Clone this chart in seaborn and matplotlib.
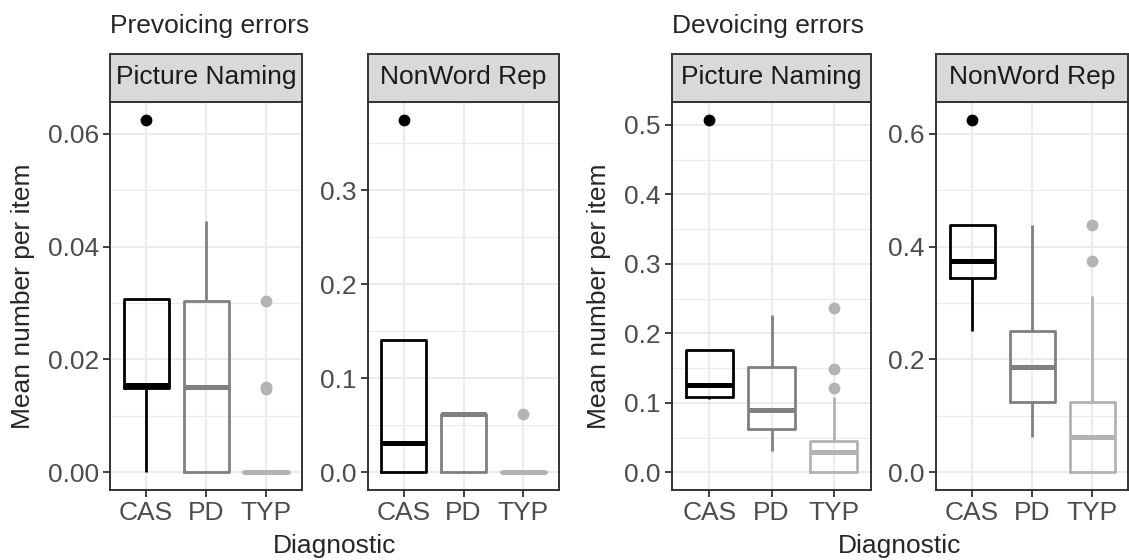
"""Prevoicing / devoicing error rates by diagnostic group, split by task.

Two ggplot-style facet pairs side by side (free y per facet), boxplots drawn
with seaborn, strips and titles added by hand.
"""

import matplotlib
import numpy as np
import pandas as pd

matplotlib.use("Agg")
import matplotlib.pyplot as plt
import seaborn as sns
from matplotlib.ticker import FormatStrFormatter, MultipleLocator

GROUPS = ["CAS", "PD", "TYP"]
TASKS = ["Picture Naming", "NonWord Rep"]
ERROR_TYPES = ["Prevoicing errors", "Devoicing errors"]

# Mean number of errors per item, one value per child.
PREV_PN_CAS = [0, 0.0147, 0.0149, 0.0152, 0.0155, 0.0303, 0.0308, 0.0308, 0.0625]
PREV_PN_PD = [0, 0, 0, 0.0147, 0.0152, 0.0156, 0.0303, 0.0303, 0.0446]
PREV_PN_TYP = [0, 0, 0, 0, 0, 0, 0, 0, 0, 0, 0.0147, 0.0152, 0.0303]

PREV_NWR_CAS = [0, 0, 0, 0.03125, 0.03125, 0.0625, 0.1406, 0.1406, 0.375]
PREV_NWR_PD = [0, 0, 0, 0.0625, 0.0625, 0.0625, 0.0625, 0.0625, 0.0625]
PREV_NWR_TYP = [0, 0, 0, 0, 0, 0, 0, 0, 0, 0, 0, 0, 0.0625]

DEV_PN_CAS = [0.105, 0.106, 0.108, 0.118, 0.125, 0.15, 0.176, 0.176, 0.5075]
DEV_PN_PD = [0.031, 0.05, 0.0617, 0.076, 0.09, 0.12, 0.152, 0.19, 0.2266]
DEV_PN_TYP = [0, 0, 0, 0, 0, 0.015, 0.015, 0.015, 0.030, 0.030, 0.030,
              0.045, 0.045, 0.108, 0.121, 0.148, 0.236]

DEV_NWR_CAS = [0.25, 0.3125, 0.34375, 0.375, 0.375, 0.40625, 0.4375, 0.4375, 0.625]
DEV_NWR_PD = [0.0625, 0.125, 0.125, 0.1875, 0.1875, 0.1875, 0.25, 0.3125, 0.4375]
DEV_NWR_TYP = [0, 0, 0, 0, 0, 0, 0.0625, 0.0625, 0.0625, 0.0625, 0.125, 0.125,
               0.125, 0.1875, 0.3125, 0.375, 0.4375]

GROUP_COLORS = {"CAS": "#000000", "PD": "#808080", "TYP": "#B3B3B3"}

# (major tick step, label format) per facet, in panel order
TICK_STEPS = [0.02, 0.1, 0.1, 0.2]
TICK_FMTS = ["%.2f", "%.1f", "%.1f", "%.1f"]

W, H = 1129, 560
PANEL_X = [(110, 302), (368, 559), (672, 871), (936, 1128)]
PANEL_TOP, PANEL_BOTTOM = 102, 490
STRIP_TOP = 54
FS = 19

sns.set_theme(style="white")
plt.rcParams["font.family"] = ["Liberation Sans", "DejaVu Sans"]


def build_frame():
    series = {
        ("Prevoicing errors", "Picture Naming"): [PREV_PN_CAS, PREV_PN_PD, PREV_PN_TYP],
        ("Prevoicing errors", "NonWord Rep"): [PREV_NWR_CAS, PREV_NWR_PD, PREV_NWR_TYP],
        ("Devoicing errors", "Picture Naming"): [DEV_PN_CAS, DEV_PN_PD, DEV_PN_TYP],
        ("Devoicing errors", "NonWord Rep"): [DEV_NWR_CAS, DEV_NWR_PD, DEV_NWR_TYP],
    }
    rows = []
    for (err, task), per_group in series.items():
        for grp, vals in zip(GROUPS, per_group):
            rows += [{"error": err, "task": task, "Diagnostic": grp, "value": v} for v in vals]
    return pd.DataFrame(rows)


def draw_panel(fig, sub, x0, x1, step, fmt, task):
    ax = fig.add_axes([x0 / W, 1 - PANEL_BOTTOM / H, (x1 - x0) / W,
                       (PANEL_BOTTOM - PANEL_TOP) / H])
    sns.boxplot(
        data=sub, x="Diagnostic", y="value", hue="Diagnostic", order=GROUPS,
        hue_order=GROUPS, palette=GROUP_COLORS, fill=False, dodge=False,
        width=0.75, linewidth=2.0, showcaps=False, fliersize=8.5,
        flierprops={"marker": "o"}, medianprops={"linewidth": 3.6},
        legend=False, ax=ax,
    )
    # ggplot outliers are solid dots
    for ln in ax.lines:
        if ln.get_marker() == "o":
            ln.set_markerfacecolor(ln.get_markeredgecolor())
            ln.set_markeredgewidth(0)

    lo, hi = sub["value"].min(), sub["value"].max()
    pad = 0.05 * (hi - lo)
    ax.set_ylim(lo - pad, hi + pad)
    ax.set_xlim(-0.6, 2.6)
    ax.yaxis.set_major_locator(MultipleLocator(step))
    ax.yaxis.set_minor_locator(MultipleLocator(step / 2))
    ax.yaxis.set_major_formatter(FormatStrFormatter(fmt))

    ax.set_axisbelow(True)
    ax.grid(which="major", color="#EBEBEB", lw=1.5)
    ax.grid(which="minor", axis="y", color="#EBEBEB", lw=0.8)
    ax.tick_params(which="major", length=5, width=1.3, color="#333333",
                   labelsize=FS, labelcolor="#4D4D4D", pad=3, left=True, bottom=True)
    ax.tick_params(which="minor", length=0)
    for sp in ax.spines.values():
        sp.set_color("#333333")
        sp.set_linewidth(1.4)
    ax.set_xlabel("")
    ax.set_ylabel("")

    # facet strip
    sax = fig.add_axes([x0 / W, 1 - PANEL_TOP / H, (x1 - x0) / W,
                        (PANEL_TOP - STRIP_TOP) / H])
    sax.set_facecolor("#D9D9D9")
    sax.set_xticks([])
    sax.set_yticks([])
    for sp in sax.spines.values():
        sp.set_color("#333333")
        sp.set_linewidth(1.4)
    sax.text(0.5, 0.37, task, ha="center", va="baseline", fontsize=FS,
             color="#1A1A1A", transform=sax.transAxes)
    return ax


def main():
    df = build_frame()
    fig = plt.figure(figsize=(W / 100, H / 100), dpi=100)

    panels = [(e, t) for e in ERROR_TYPES for t in TASKS]
    for (err, task), (x0, x1), step, fmt in zip(panels, PANEL_X, TICK_STEPS, TICK_FMTS):
        sub = df[(df["error"] == err) & (df["task"] == task)]
        draw_panel(fig, sub, x0, x1, step, fmt, task)

    # per-plot titles and shared axis labels (one set per error type)
    for err, left, right, ylab_x in [("Prevoicing errors", 110, 559, 23),
                                     ("Devoicing errors", 672, 1128, 599)]:
        fig.text(left / W, 1 - 33.5 / H, err, ha="left", va="baseline", fontsize=FS)
        fig.text((left + right) / 2 / W, 1 - 553 / H, "Diagnostic", ha="center",
                 va="baseline", fontsize=FS)
        fig.text(ylab_x / W, 1 - (PANEL_TOP + PANEL_BOTTOM) / 2 / H,
                 "Mean number per item", rotation=90, ha="center", va="center",
                 fontsize=FS)

    fig.savefig("out.png", dpi=100)
    plt.close(fig)


if __name__ == "__main__":
    main()
